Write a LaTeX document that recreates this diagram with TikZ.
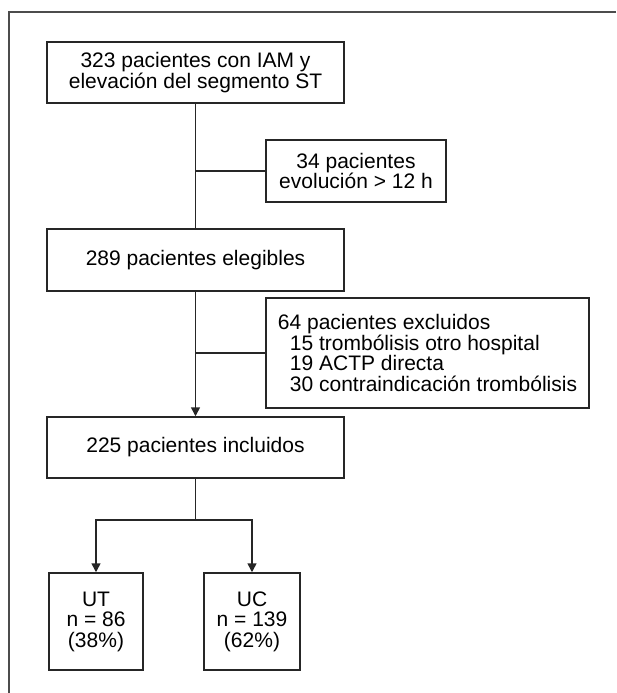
\documentclass[tikz,border=0pt]{standalone}
\usepackage{fontspec}
\setmainfont{Liberation Sans}
\usetikzlibrary{arrows.meta}
\begin{document}
\begin{tikzpicture}[x=1pt,y=-1pt,
  box/.style={draw=black!85,line width=1.5pt,align=center,inner sep=0pt,
    font=\fontsize{21}{20.5}\selectfont},
  conn/.style={draw=black!85,line width=1.5pt},
  arr/.style={conn,-{Triangle[length=9pt,width=9pt]}},
  frame/.style={draw=black!70,line width=1.6pt}]
\useasboundingbox (0,0) rectangle (616,693);
\draw[frame] (616,12) -- (9,12) -- (9,693);
\node[box,minimum width=297pt,minimum height=61pt] (b1) at (195.5,72.5)
  {323 pacientes con IAM y\\elevación del segmento ST};
\node[box,minimum width=180pt,minimum height=62pt] (b2) at (356,171)
  {34 pacientes\\evolución > 12 h};
\node[box,minimum width=297pt,minimum height=62pt] (b3) at (195.5,260)
  {289 pacientes elegibles};
\node[box,minimum width=323pt,minimum height=110pt,align=left] (b4) at (427.5,353)
  {64 pacientes excluidos\\
   \hspace*{12pt}15 trombólisis otro hospital\\
   \hspace*{12pt}19 ACTP directa\\
   \hspace*{12pt}30 contraindicación trombólisis};
\node[box,minimum width=297pt,minimum height=61pt] (b5) at (195.5,447.5)
  {225 pacientes incluidos};
\node[box,minimum width=94pt,minimum height=97pt] (ut) at (96,621.5)
  {UT\\n = 86\\(38\%)};
\node[box,minimum width=96pt,minimum height=97pt] (uc) at (252,621.5)
  {UC\\n = 139\\(62\%)};
% connectors
\draw[conn] (b1.south) -- (b3.north);
\draw[conn] (b2.west) -- (b2.west -| b1.south);
\draw[arr] (b3.south) -- (b5.north);
\draw[conn] (b4.west) -- (b4.west -| b3.south);
\coordinate (split) at (195.5,520);
\draw[conn] (b5.south) -- (split);
\draw[arr] (split) -| (ut.north);
\draw[arr] (split) -| (uc.north);
\end{tikzpicture}
\end{document}
